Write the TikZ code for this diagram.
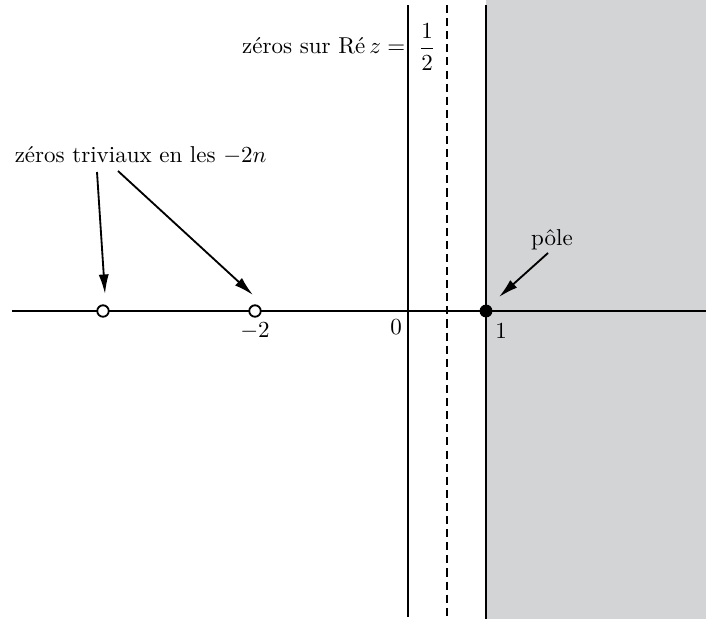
\documentclass[tikz,border=0pt]{standalone}
\usetikzlibrary{arrows.meta}
\definecolor{halfgray}{RGB}{211,212,214}
\begin{document}
\begin{tikzpicture}[x=0.435pt,y=-0.435pt,
  axis/.style={line width=0.87pt},
  ptr/.style={line width=0.8pt,-{Latex[length=8.5pt,width=4.4pt]}},
  hole/.style={circle,draw,fill=white,line width=0.8pt,inner sep=0pt,minimum size=5pt},
  lbl/.style={inner sep=1pt}]
\useasboundingbox (0,0) rectangle (706,619);
\fill[halfgray] (486,0) rectangle (706,619);
% axes
\coordinate (xl) at (12,311);
\coordinate (xr) at (706,311);
\coordinate (yt) at (408,5);
\coordinate (yb) at (408,617);
\coordinate (ht) at (447,5);
\coordinate (hb) at (447,617);
\coordinate (ot) at (486,5);
\coordinate (ob) at (486,619);
\draw[axis] (xl) -- (xr);
\draw[axis] (yt) -- (yb);
\draw[axis] (ot) -- (ob);
\draw[line width=0.87pt,dash pattern=on 3.5pt off 2.2pt] (ht) -- (hb);
% points
\node[hole] (m4) at (103,311) {};
\node[hole] (m2) at (255,311) {};
\node[circle,fill,inner sep=0pt,minimum size=5.6pt] (p1) at (486,311) {};
% labels
\node[lbl] (l0) at (396,327) {$0$};
\node[lbl] (lm2) at (255,331) {$-2$};
\node[lbl] (l1) at (501,331) {$1$};
\node[lbl,anchor=east] (zs) at (408,46) {zéros sur Ré\,$z =$};
\node[lbl] (half) at (427,47) {$\displaystyle\frac12$};
\node[lbl,anchor=west] (zt) at (12,155) {zéros triviaux en les $-2n$};
\node[lbl] (pole) at (552,240) {pôle};
% arrows
\coordinate (a1s) at (97,172);
\coordinate (a1e) at (105,294);
\coordinate (a2s) at (118,171);
\coordinate (a2e) at (253,295);
\coordinate (a3s) at (548,253);
\coordinate (a3e) at (499,297);
\draw[ptr] (a1s) -- (a1e);
\draw[ptr] (a2s) -- (a2e);
\draw[ptr] (a3s) -- (a3e);
\end{tikzpicture}
\end{document}
